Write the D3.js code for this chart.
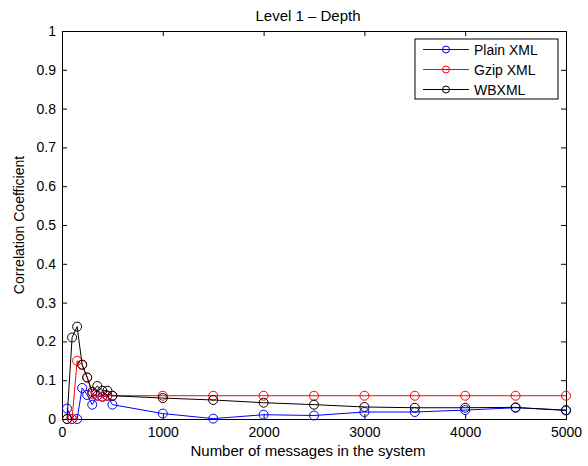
<!DOCTYPE html>
<html>
<head>
<meta charset="utf-8">
<script src="https://cdn.jsdelivr.net/npm/d3@7"></script>
<style>
  body { margin: 0; background: #fff; }
  text { font-family: "Liberation Sans", Arial, Helvetica, sans-serif; }
</style>
</head>
<body>
<svg id="chart" width="588" height="466"></svg>
<script>
// Message counts on the x axis
const messages = [50, 100, 150, 200, 250, 300, 350, 400, 450, 500,
                  1000, 1500, 2000, 2500, 3000, 3500, 4000, 4500, 5000];

// Correlation coefficient per encoding
const plainXml = [0.027, 0, 0, 0.08, 0.062, 0.037, 0.06, 0.057, 0.06, 0.037,
                  0.014, 0.001, 0.011, 0.009, 0.018, 0.018, 0.023, 0.029, 0.023];
const gzipXml  = [0, 0, 0.15, 0.14, 0.107, 0.065, 0.06, 0.058, 0.06, 0.06,
                  0.06, 0.06, 0.06, 0.06, 0.06, 0.06, 0.06, 0.06, 0.06];
const wbxml    = [0, 0.21, 0.238, 0.14, 0.107, 0.07, 0.085, 0.073, 0.073, 0.06,
                  0.054, 0.049, 0.042, 0.037, 0.031, 0.029, 0.029, 0.03, 0.022];

const seriesNames = ["Plain XML", "Gzip XML", "WBXML"];
const seriesColors = ["#0000ff", "#ff0000", "#000000"];

const xTicks = [0, 1000, 2000, 3000, 4000, 5000];
const yTicks = [0, 0.1, 0.2, 0.3, 0.4, 0.5, 0.6, 0.7, 0.8, 0.9, 1];

const titleText = "Level 1 \u2013 Depth";
const xLabel = "Number of messages in the system";
const yLabel = "Correlation Coefficient";

const svg = d3.select("#chart");
const m = { left: 62, right: 566, top: 31, bottom: 419 };

const x = d3.scaleLinear().domain([0, 5000]).range([m.left, m.right]);
const y = d3.scaleLinear().domain([0, 1]).range([m.bottom, m.top]);

const fontSize = 14;
const tickLen = 5;

// Axes: ticks point inward on all four sides
const axB = svg.append("g").attr("transform", `translate(0,${m.bottom})`)
  .call(d3.axisBottom(x).tickValues(xTicks).tickSize(-tickLen).tickPadding(8).tickFormat(d3.format("d")));
const axT = svg.append("g").attr("transform", `translate(0,${m.top})`)
  .call(d3.axisTop(x).tickValues(xTicks).tickSize(-tickLen).tickFormat(""));
const axL = svg.append("g").attr("transform", `translate(${m.left},0)`)
  .call(d3.axisLeft(y).tickValues(yTicks).tickSize(-tickLen).tickPadding(6).tickFormat(d => d === 0 || d === 1 ? d3.format("d")(d) : d3.format(".1f")(d)));
const axR = svg.append("g").attr("transform", `translate(${m.right},0)`)
  .call(d3.axisRight(y).tickValues(yTicks).tickSize(-tickLen).tickFormat(""));

[axB, axT, axL, axR].forEach(g => {
  g.select(".domain").attr("stroke", "#000").attr("stroke-width", 1);
  g.selectAll(".tick line").attr("stroke", "#000");
  g.selectAll(".tick text").attr("fill", "#000").style("font-size", fontSize + "px")
    .style("font-family", "'Liberation Sans', Arial, sans-serif");
});

// Series lines and circle markers
const allSeries = [plainXml, gzipXml, wbxml];
const line = d3.line().x((d, i) => x(messages[i])).y(d => y(d));
const markerR = 4.5;

allSeries.forEach((vals, k) => {
  const g = svg.append("g");
  g.append("path").datum(vals).attr("d", line)
    .attr("fill", "none").attr("stroke", seriesColors[k]).attr("stroke-width", 1);
  g.selectAll("circle").data(vals).enter().append("circle")
    .attr("cx", (d, i) => x(messages[i])).attr("cy", d => y(d)).attr("r", markerR)
    .attr("fill", "none").attr("stroke", seriesColors[k]).attr("stroke-width", 1);
});

// Title and axis labels
svg.append("text").attr("x", 308).attr("y", 21)
  .attr("text-anchor", "middle").style("font-size", "15px").text(titleText);
svg.append("text").attr("x", 308).attr("y", 456)
  .attr("text-anchor", "middle").style("font-size", "15px").text(xLabel);
svg.append("text").attr("transform", `translate(24,${(m.top + m.bottom) / 2}) rotate(-90)`)
  .attr("text-anchor", "middle").style("font-size", fontSize + "px").text(yLabel);

// Legend
const lg = svg.append("g");
lg.append("rect").attr("x", 415).attr("y", 39).attr("width", 143).attr("height", 60)
  .attr("fill", "#fff").attr("stroke", "#000").attr("stroke-width", 1);
seriesNames.forEach((name, k) => {
  const ly = 49.5 + k * 20;
  lg.append("line").attr("x1", 423).attr("x2", 469).attr("y1", ly).attr("y2", ly)
    .attr("stroke", seriesColors[k]).attr("stroke-width", 1);
  lg.append("circle").attr("cx", 446).attr("cy", ly).attr("r", 3.5)
    .attr("fill", "none").attr("stroke", seriesColors[k]);
  lg.append("text").attr("x", 474).attr("y", ly + 5).style("font-size", fontSize + "px").text(name);
});
</script>
</body>
</html>
